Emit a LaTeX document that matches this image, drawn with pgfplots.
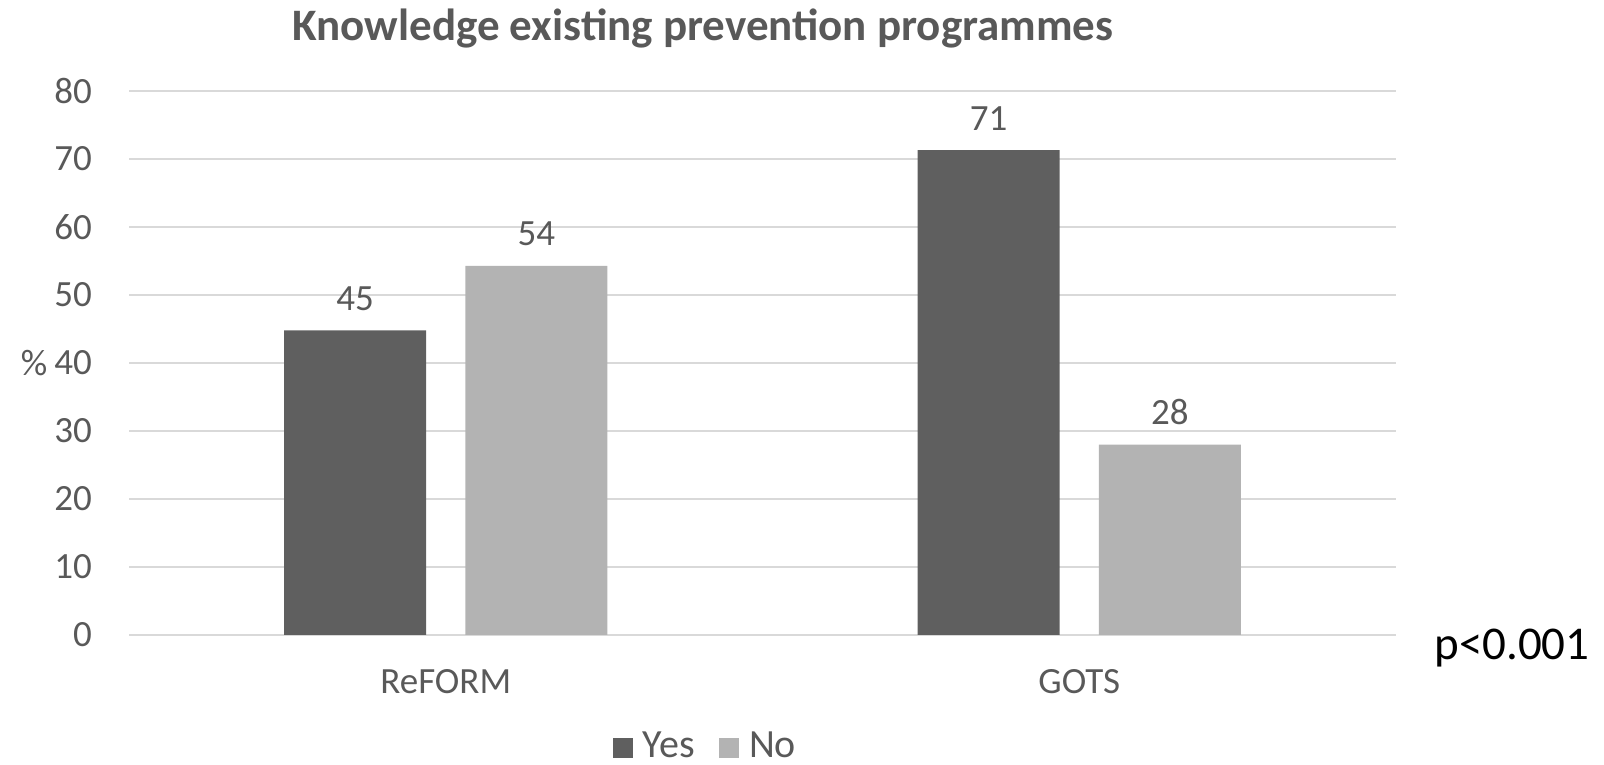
\documentclass[border=0pt]{standalone}
\usepackage{fontspec}
\setmainfont{Carlito}
\usepackage{pgfplots}
\pgfplotsset{compat=1.18}
\definecolor{yes}{HTML}{5F5F5F}
\definecolor{no}{HTML}{B3B3B3}
\definecolor{gridc}{HTML}{D9D9D9}
\definecolor{txt}{HTML}{595959}
\begin{document}
\begin{tikzpicture}
\useasboundingbox (0,0) rectangle (1604pt,765pt);
\begin{axis}[
  at={(129pt,130pt)}, anchor=south west,
  width=1267pt, height=544pt, scale only axis,
  xmin=-0.5, xmax=1.5, ymin=0, ymax=80,
  xtick={0,1}, xticklabels={ReFORM,GOTS},
  ytick={0,10,...,80},
  ymajorgrids, grid style={gridc, line width=1.6pt},
  axis line style={draw=none}, major tick length=0pt,
  /pgf/number format/assume math mode=true,
  ticklabel style={font=\fontsize{37}{44}\selectfont, text=txt},
  yticklabel style={anchor=east, inner sep=0pt, xshift=-37pt},
  xticklabel style={anchor=base, inner sep=0pt, yshift=-59pt},
  clip=false,
  point meta=explicit symbolic,
  nodes near coords,
  every node near coord/.append style={anchor=base, inner sep=0pt, yshift=20pt, font=\fontsize{37}{44}\selectfont, text=txt},
  legend style={at={(0.4542,-0.2024)}, anchor=center, draw=none, fill=none,
    inner sep=0pt, outer sep=0pt,
    legend columns=2,
    nodes={font=\fontsize{40}{46}\selectfont, text=txt, inner sep=0pt, anchor=west},
    /tikz/every odd column/.append style={column sep=10pt},
    /tikz/every even column/.append style={column sep=24pt},
    legend cell align=left},
  legend image code/.code={\fill[#1] (0pt,-12.9pt) rectangle (20pt,7.1pt);},
]
\addplot[ybar, fill=yes, draw=none, bar width=142pt, bar shift=0pt]
  coordinates {(-0.1429,44.8) [45] (0.8571,71.3) [71]};
\addlegendentry{Yes}
\addplot[ybar, fill=no, draw=none, bar width=142pt, bar shift=0pt]
  coordinates {(0.1429,54.3) [54] (1.1429,28.0) [28]};
\addlegendentry{No}
\end{axis}
\node[font=\fontsize{45}{54}\selectfont\bfseries, text=txt] at (703pt,736pt) {Knowledge existing prevention programmes};
\node[font=\fontsize{37}{44}\selectfont, text=txt] at (34pt,402pt) {\%};
\node[font=\fontsize{47}{56}\selectfont, text=black] at (1512pt,117pt) {p<0.001};
\end{tikzpicture}
\end{document}
